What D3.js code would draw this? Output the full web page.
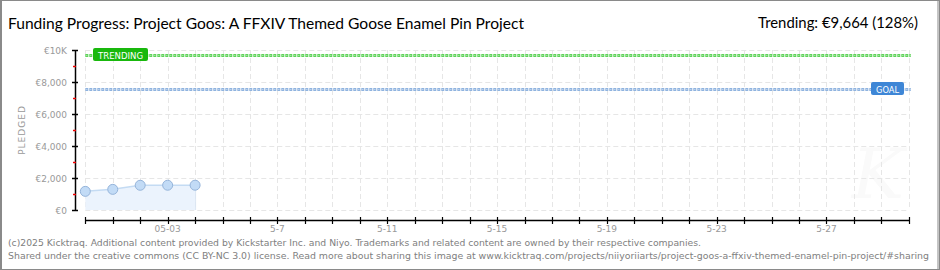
<!DOCTYPE html>
<html>
<head>
<meta charset="utf-8">
<script src="https://cdnjs.cloudflare.com/ajax/libs/d3/7.8.5/d3.min.js"></script>
<style>
  body { margin: 0; background: #fff; }
  svg { display: block; }
  .tick-label { font-family: "DejaVu Sans", sans-serif; font-size: 9px; fill: #999; }
  .foot { font-family: "DejaVu Sans Condensed", "Liberation Sans", sans-serif; font-size: 9px; fill: #808080; }
  .head { font-family: Lato, "DejaVu Sans Condensed", sans-serif; font-size: 16px; font-weight: 400; fill: #000; }
</style>
</head>
<body>
<div id="chart"></div>
<script>
// chart data
const days = ['4-30','5-1','5-2','5-3','5-4','5-5','5-6','5-7','5-8','5-9','5-10','5-11','5-12','5-13','5-14','5-15',
  '5-16','5-17','5-18','5-19','5-20','5-21','5-22','5-23','5-24','5-25','5-26','5-27','5-28','5-29','5-30'];
const dayLabels = {'5-3': '05-03', '5-7': '5-7', '5-11': '5-11', '5-15': '5-15', '5-19': '5-19', '5-23': '5-23', '5-27': '5-27'};
const pledgedDays = ['4-30','5-1','5-2','5-3','5-4'];
const pledged = [1165, 1290, 1545, 1548, 1550];
const goal = 7550;
const trending = 9664;
const yTicks = [0, 2000, 4000, 6000, 8000, 10000];
const yTickLabels = ['€0', '€2,000', '€4,000', '€6,000', '€8,000', '€10K'];
const yMinorTicks = [1000, 3000, 5000, 7000, 9000];

const titleText = 'Funding Progress: Project Goos: A FFXIV Themed Goose Enamel Pin Project';
const trendText = 'Trending: €9,664 (128%)';
const foot1 = '(c)2025 Kicktraq. Additional content provided by Kickstarter Inc. and Niyo. Trademarks and related content are owned by their respective companies.';
const foot2 = 'Shared under the creative commons (CC BY-NC 3.0) license. Read more about sharing this image at www.kicktraq.com/projects/niiyoriiarts/project-goos-a-ffxiv-themed-enamel-pin-project/#sharing';

const W = 940, H = 270;

// scales
const x = d3.scalePoint().domain(days).range([85.3, 908.8]);
const y = d3.scaleLinear().domain([0, 10000]).range([210, 50]);

const svg = d3.select('#chart').append('svg')
    .attr('width', W)
    .attr('height', H);

// frame
svg.append('rect')
    .attr('x', 0.5).attr('y', 0.5)
    .attr('width', W - 1).attr('height', H - 1)
    .attr('fill', '#fff')
    .attr('stroke', '#8a8a8a')
    .attr('stroke-width', 1);
svg.append('line').attr('x1', 1).attr('x2', 1).attr('y1', 0).attr('y2', H)
    .attr('stroke', '#8a8a8a').attr('stroke-width', 2);
svg.append('line').attr('x1', W - 2).attr('x2', W - 2).attr('y1', 0).attr('y2', H)
    .attr('stroke', '#8a8a8a').attr('stroke-width', 1);

// title
svg.append('text').attr('class', 'head')
    .attr('x', 8).attr('y', 29)
    .attr('textLength', 516).attr('lengthAdjust', 'spacingAndGlyphs')
    .text(titleText);

svg.append('text').attr('class', 'head')
    .attr('x', 918).attr('y', 28)
    .attr('text-anchor', 'end')
    .attr('textLength', 160).attr('lengthAdjust', 'spacingAndGlyphs')
    .text(trendText);

// watermark
svg.append('text')
    .attr('x', 878).attr('y', 198)
    .attr('text-anchor', 'middle')
    .style('font-family', '"DejaVu Serif", serif')
    .style('font-style', 'italic')
    .style('font-size', '70px')
    .style('fill', '#fafafa')
    .text('K');

// grids
const grid = svg.append('g');
grid.selectAll('.hgrid').data(yTicks).join('line')
    .attr('x1', x(days[0])).attr('x2', x(days[days.length - 1]))
    .attr('y1', d => y(d) + 0.5).attr('y2', d => y(d) + 0.5)
    .attr('stroke', '#e6e6e6').attr('stroke-dasharray', '5,3');
grid.selectAll('.vgrid').data(days).join('line')
    .attr('x1', d => Math.round(x(d)) + 0.5).attr('x2', d => Math.round(x(d)) + 0.5)
    .attr('y1', y(10000)).attr('y2', y(0))
    .attr('stroke', '#e6e6e6').attr('stroke-dasharray', '5,3');

// pledged area + line
const pts = pledgedDays.map((d, i) => ({day: d, value: pledged[i]}));
svg.append('path')
    .datum(pts)
    .attr('fill', '#ebf3fd')
    .attr('d', d3.area().x(d => x(d.day)).y0(y(0)).y1(d => y(d.value)));
svg.append('line')
    .attr('x1', x(pledgedDays[pledgedDays.length - 1]) + 0.5).attr('x2', x(pledgedDays[pledgedDays.length - 1]) + 0.5)
    .attr('y1', y(pledged[pledged.length - 1])).attr('y2', y(0))
    .attr('stroke', '#dbe6f3');
svg.append('path')
    .datum(pts)
    .attr('fill', 'none')
    .attr('stroke', '#c4dbf3')
    .attr('stroke-width', 1.5)
    .attr('d', d3.line().x(d => x(d.day)).y(d => y(d.value)));

// trending and goal lines
function refLine(v, color) {
  svg.append('line')
      .attr('x1', x(days[0])).attr('x2', x(days[days.length - 1]) + 2)
      .attr('y1', Math.round(y(v)) + 0.5).attr('y2', Math.round(y(v)) + 0.5)
      .attr('stroke', color).attr('stroke-width', 3)
      .attr('stroke-dasharray', '3,1');
  svg.append('line')
      .attr('x1', x(days[0])).attr('x2', x(days[days.length - 1]) + 2)
      .attr('y1', Math.round(y(v)) + 0.5).attr('y2', Math.round(y(v)) + 0.5)
      .attr('stroke', '#fff').attr('stroke-width', 1).attr('stroke-opacity', 0.55)
      .attr('stroke-dasharray', '1,3').attr('stroke-dashoffset', -1);
}
refLine(trending, '#5fd35a');
refLine(goal, '#8fb3df');

// labels on lines
function tag(cx, v, w, label, color) {
  const ty = Math.round(y(v));
  svg.append('rect')
      .attr('x', cx).attr('y', ty - 7)
      .attr('width', w).attr('height', 13)
      .attr('rx', 2)
      .attr('fill', color);
  svg.append('text')
      .attr('x', cx + 5).attr('y', ty + 3.5)
      .attr('textLength', w - 10).attr('lengthAdjust', 'spacingAndGlyphs')
      .style('font-family', '"DejaVu Sans", sans-serif')
      .style('font-size', '9.5px')
      .style('fill', '#fff')
      .text(label);
}
tag(93, trending, 55, 'TRENDING', '#19b80d');
tag(871, goal, 33, 'GOAL', '#3e86d6');

// points
svg.selectAll('.pt').data(pts).join('circle')
    .attr('cx', d => x(d.day)).attr('cy', d => y(d.value))
    .attr('r', 5)
    .attr('fill', '#c2dbf6')
    .attr('stroke', '#95b4da')
    .attr('stroke-width', 1);

// y axis
const yAxisG = svg.append('g');
yAxisG.append('line')
    .attr('x1', 75.5).attr('x2', 75.5).attr('y1', y(10000)).attr('y2', y(0) + 0.5)
    .attr('stroke', '#000').attr('stroke-width', 1.5);
yAxisG.selectAll('.ymaj').data(yTicks).join('line')
    .attr('x1', 72).attr('x2', 78)
    .attr('y1', d => y(d) + 0.5).attr('y2', d => y(d) + 0.5)
    .attr('stroke', '#000').attr('stroke-width', 1.5);
yAxisG.selectAll('.ymin').data(yMinorTicks).join('line')
    .attr('x1', 73).attr('x2', 76)
    .attr('y1', d => y(d) + 0.5).attr('y2', d => y(d) + 0.5)
    .attr('stroke', '#e00').attr('stroke-width', 1.5);
yAxisG.selectAll('.ylab').data(yTicks).join('text')
    .attr('class', 'tick-label')
    .attr('x', 67).attr('y', d => y(d) + 3.5)
    .attr('text-anchor', 'end')
    .text((d, i) => yTickLabels[i]);

svg.append('text')
    .attr('class', 'tick-label')
    .attr('text-anchor', 'middle')
    .attr('transform', `translate(25, ${(y(0) + y(10000)) / 2}) rotate(-90)`)
    .style('letter-spacing', '1px')
    .text('PLEDGED');

// x axis
const xAxisG = svg.append('g');
xAxisG.append('line')
    .attr('x1', x(days[0])).attr('x2', x(days[days.length - 1]) + 1)
    .attr('y1', 220.5).attr('y2', 220.5)
    .attr('stroke', '#000').attr('stroke-width', 1.5);
xAxisG.selectAll('.xt').data(days).join('line')
    .attr('x1', d => Math.round(x(d)) + 0.5).attr('x2', d => Math.round(x(d)) + 0.5)
    .attr('y1', 217).attr('y2', 224)
    .attr('stroke', '#000').attr('stroke-width', 1.2);
xAxisG.selectAll('.xl').data(days.filter(d => dayLabels[d])).join('text')
    .attr('class', 'tick-label')
    .attr('x', d => x(d)).attr('y', 232)
    .attr('text-anchor', 'middle')
    .text(d => dayLabels[d]);

// footer
svg.append('text').attr('class', 'foot')
    .attr('x', 8).attr('y', 246)
    .attr('textLength', 693).attr('lengthAdjust', 'spacingAndGlyphs')
    .text(foot1);
svg.append('text').attr('class', 'foot')
    .attr('x', 8).attr('y', 259)
    .attr('textLength', 921).attr('lengthAdjust', 'spacingAndGlyphs')
    .text(foot2);
</script>
</body>
</html>
